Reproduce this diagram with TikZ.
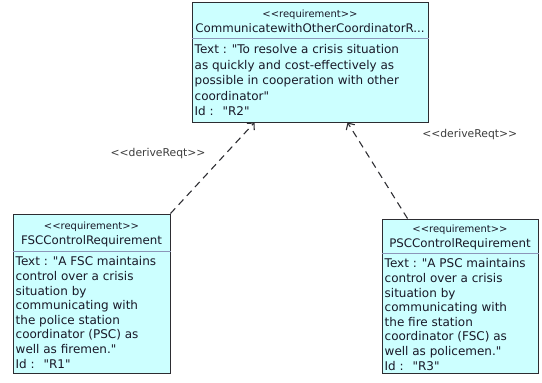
\documentclass[tikz,border=0pt]{standalone}
\usepackage{fontspec}
\setmainfont{DejaVu Sans}[Ligatures=TeXOff]
\usetikzlibrary{arrows.meta}
\definecolor{reqfill}{RGB}{204,255,255}
\definecolor{reqline}{RGB}{45,45,50}
\definecolor{reqsep}{RGB}{140,150,185}
\definecolor{reqtext}{RGB}{25,25,40}
\definecolor{lbltext}{RGB}{60,60,60}

\begin{document}
\begin{tikzpicture}[x=1pt, y=-1pt,
    reqbox/.style={draw=reqline, fill=reqfill, line width=1pt, inner sep=0pt},
    headtext/.style={font=\fontsize{11.8}{15.5}\selectfont, text=reqtext, align=center, inner sep=0pt, anchor=north},
    bodytext/.style={font=\fontsize{12}{#1}\selectfont, text=reqtext, align=left, inner sep=0pt, anchor=north west},
    sepline/.style={draw=reqsep, line width=0.8pt},
    derive/.style={line width=1.1pt, dash pattern=on 7pt off 5pt, draw=reqline,
        -{Straight Barb[length=5pt, width=10pt, line width=1.1pt]}},
    lbl/.style={font=\fontsize{10.8}{12}\selectfont, text=lbltext, inner sep=0pt}]
    \useasboundingbox (0,0) rectangle (542,383);

    % requirement boxes
    \node[reqbox, minimum width=236pt, minimum height=120pt] (rTwo) at (310,62) {};
    \node[reqbox, minimum width=157pt, minimum height=159pt] (rOne) at (91.5,293.5) {};
    \node[reqbox, minimum width=156pt, minimum height=154pt] (rThree) at (460,296) {};

    % R2
    \node[headtext] (hTwo) at ([yshift=-8pt]rTwo.north)
        {{\fontsize{10}{15.5}\selectfont <<requirement>>}\\CommunicatewithOtherCoordinatorR...};
    \draw[sepline] ([yshift=-37pt]rTwo.north west) -- ([yshift=-37pt]rTwo.north east);
    \node[bodytext=15.5] (bTwo) at ([xshift=3pt, yshift=-43pt]rTwo.north west)
        {Text : "To resolve a crisis situation\\as quickly and cost-effectively as\\possible in cooperation with other\\coordinator"\\Id :~ "R2"};

    % R1
    \node[headtext] (hOne) at ([yshift=-8pt]rOne.north)
        {{\fontsize{10}{15.5}\selectfont <<requirement>>}\\FSCControlRequirement};
    \draw[sepline] ([yshift=-38pt]rOne.north west) -- ([yshift=-38pt]rOne.north east);
    \node[bodytext=14.6] (bOne) at ([xshift=3pt, yshift=-43pt]rOne.north west)
        {Text : "A FSC maintains\\control over a crisis\\situation by\\communicating with\\the police station\\coordinator (PSC) as\\well as firemen."\\Id :~ "R1"};

    % R3
    \node[headtext] (hThree) at ([yshift=-6pt]rThree.north)
        {{\fontsize{10}{15.5}\selectfont <<requirement>>}\\PSCControlRequirement};
    \draw[sepline] ([yshift=-35pt]rThree.north west) -- ([yshift=-35pt]rThree.north east);
    \node[bodytext=14.6] (bThree) at ([xshift=3pt, yshift=-40pt]rThree.north west)
        {Text : "A PSC maintains\\control over a crisis\\situation by\\communicating with\\the fire station\\coordinator (FSC) as\\well as policemen."\\Id :~ "R3"};

    % derivations
    \draw[derive] (rOne.north east) -- node[lbl, pos=0.685, anchor=east, xshift=-22pt, yshift=-2pt] {<<deriveReqt>>} ([xshift=63pt]rTwo.south west);
    \draw[derive] ([xshift=26pt]rThree.north west) -- node[lbl, pos=0.88, anchor=west, xshift=67pt] {<<deriveReqt>>} ([xshift=156pt]rTwo.south west);
\end{tikzpicture}
\end{document}
